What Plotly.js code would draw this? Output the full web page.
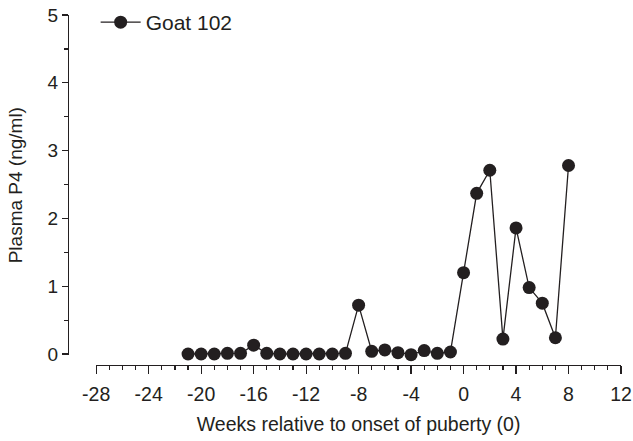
<!DOCTYPE html>
<html>
<head>
<meta charset="utf-8">
<script src="https://cdn.plot.ly/plotly-3.0.1.min.js"></script>
<style>html,body{margin:0;padding:0;background:#fff;}#chart{width:633px;height:441px;}</style>
</head>
<body>
<div id="chart"></div>
<script>
const weeks = [-21,-20,-19,-18,-17,-16,-15,-14,-13,-12,-11,-10,-9,-8,-7,-6,-5,-4,-3,-2,-1,0,1,2,3,4,5,6,7,8];
const p4 = [0,0,0,0.01,0.01,0.13,0.01,0,0,0,0,0,0.01,0.72,0.04,0.06,0.02,-0.01,0.05,0.01,0.03,1.2,2.37,2.71,0.22,1.86,0.98,0.75,0.24,2.78];
const xTickVals = [-28,-24,-20,-16,-12,-8,-4,0,4,8,12];
const xTickText = ['-28','-24','-20','-16','-12','-8','-4','0','4','8','12'];
const yTickVals = [0,1,2,3,4,5];
const yTickText = ['0','1','2','3','4','5'];
const seriesName = 'Goat 102';
const xTitle = 'Weeks relative to onset of puberty (0)';
const yTitle = 'Plasma P4 (ng/ml)';
const ink = '#231f20';
const font = 'Liberation Sans, Arial, Helvetica, sans-serif';

const trace = {
  x: weeks, y: p4, name: seriesName, type: 'scatter', mode: 'lines+markers',
  line: {color: ink, width: 1.3},
  marker: {color: ink, size: 13},
  cliponaxis: false
};

const layout = {
  width: 633, height: 441,
  margin: {l: 68, r: 12, t: 0, b: 76, autoexpand: false},
  paper_bgcolor: '#fff', plot_bgcolor: '#fff',
  font: {family: font, color: ink, size: 20},
  showlegend: true,
  legend: {x: 0.05, y: 0.9945, xanchor: 'left', yanchor: 'top', bgcolor: 'rgba(0,0,0,0)',
           font: {size: 21, color: ink}, itemwidth: 40},
  xaxis: {
    domain: [0.051, 1], anchor: 'free', position: 0,
    range: [-28, 12], tickmode: 'array', tickvals: xTickVals, ticktext: xTickText,
    showline: true, linecolor: ink, linewidth: 1.2, showgrid: false, zeroline: false,
    ticks: 'outside', ticklen: 8, tickwidth: 1.2, tickcolor: ink, ticklabelstandoff: 3,
    minor: {dtick: 1, tick0: -28, ticks: 'outside', ticklen: 4, tickwidth: 1.2, tickcolor: ink, showgrid: false},
    tickfont: {size: 19.5, color: ink},
    title: {text: xTitle, font: {size: 19.5, color: ink}, standoff: 13}
  },
  yaxis: {
    domain: [0.0264, 0.9589], anchor: 'free', position: 0,
    range: [-0.02, 5], tickmode: 'array', tickvals: yTickVals, ticktext: yTickText,
    showline: true, linecolor: ink, linewidth: 1.2, showgrid: false, zeroline: false,
    ticks: 'outside', ticklen: 6, tickwidth: 1.2, tickcolor: ink,
    minor: {dtick: 0.5, tick0: 0, ticks: 'outside', ticklen: 4, tickwidth: 1.2, tickcolor: ink, showgrid: false},
    tickfont: {size: 19, color: ink},
    title: {text: yTitle, font: {size: 19, color: ink}, standoff: 18}
  }
};

Plotly.newPlot('chart', [trace], layout, {displayModeBar: false, staticPlot: true});
</script>
</body>
</html>
